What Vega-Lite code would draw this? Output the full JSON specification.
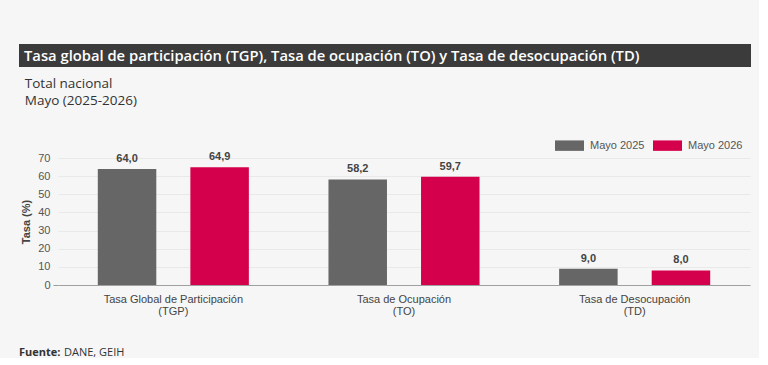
{
  "$schema": "https://vega.github.io/schema/vega-lite/v6.json",
  "background": "#f6f6f6",
  "padding": {"left": 19, "top": 44, "right": 8, "bottom": 0},
  "autosize": {"type": "pad"},
  "config": {
    "locale": {
      "number": {"decimal": ",", "thousands": ".", "grouping": [3], "currency": ["$", ""]}
    },
    "view": {"stroke": null},
    "font": "Liberation Sans"
  },
  "spacing": 9,
  "resolve": {"scale": {"color": "independent"}, "legend": {"color": "independent"}},
  "vconcat": [
    {
      "width": 732,
      "height": 23,
      "view": {"fill": "#3b3b3b", "stroke": null},
      "title": {
        "text": "Tasa global de participación (TGP), Tasa de ocupación (TO) y Tasa de desocupación (TD)",
        "orient": "top",
        "anchor": "start",
        "frame": "group",
        "offset": -20,
        "dx": 5,
        "color": "#ffffff",
        "font": "Open Sans",
        "fontSize": 14.75,
        "fontWeight": 600
      },
      "data": {"values": []},
      "mark": "rect"
    },
    {
      "spacing": 0,
      "resolve": {"scale": {"color": "independent"}, "legend": {"color": "independent"}},
      "hconcat": [
        {
          "width": 1,
          "height": 1,
          "data": {"values": []},
          "mark": "rect"
        },
        {
          "width": 692,
          "height": 127,
          "title": {
            "text": ["Total nacional", "Mayo (2025-2026)"],
            "anchor": "start",
            "frame": "bounds",
            "offset": 24,
            "dx": 4,
            "color": "#333333",
            "font": "Open Sans",
            "fontSize": 13.5,
            "fontWeight": 500,
            "lineHeight": 17
          },
          "data": {
            "values": [
              {"indicador": "Tasa Global de Participación (TGP)", "periodo": "Mayo 2025", "valor": 64.0},
              {"indicador": "Tasa Global de Participación (TGP)", "periodo": "Mayo 2026", "valor": 64.9},
              {"indicador": "Tasa de Ocupación (TO)", "periodo": "Mayo 2025", "valor": 58.2},
              {"indicador": "Tasa de Ocupación (TO)", "periodo": "Mayo 2026", "valor": 59.7},
              {"indicador": "Tasa de Desocupación (TD)", "periodo": "Mayo 2025", "valor": 9.0},
              {"indicador": "Tasa de Desocupación (TD)", "periodo": "Mayo 2026", "valor": 8.0}
            ]
          },
          "encoding": {
            "x": {
              "field": "indicador",
              "type": "nominal",
              "sort": null,
              "scale": {"paddingInner": 0, "paddingOuter": 0},
              "axis": {
                "title": null,
                "labelAngle": 0,
                "ticks": false,
                "domainColor": "#a0a0a0",
                "labelFont": "Liberation Sans",
                "labelFontSize": 11,
                "labelColor": "#444444",
                "labelPadding": 8,
                "labelLineHeight": 12,
                "labelLimit": 300,
                "labelExpr": "[slice(datum.label, 0, indexof(datum.label, ' (')), slice(datum.label, indexof(datum.label, ' (') + 1)]"
              }
            },
            "xOffset": {
              "field": "periodo",
              "type": "nominal",
              "sort": null,
              "scale": {"paddingInner": 0.368, "paddingOuter": 0.43}
            },
            "y": {
              "field": "valor",
              "type": "quantitative",
              "scale": {"domain": [0, 70]},
              "axis": {
                "title": "Tasa (%)",
                "titleFont": "Liberation Sans",
                "titleFontSize": 11,
                "titleFontWeight": "bold",
                "titleColor": "#444444",
                "titlePadding": 6,
                "values": [0, 10, 20, 30, 40, 50, 60, 70],
                "labelFont": "Liberation Sans",
                "labelFontSize": 11,
                "labelColor": "#555555",
                "labelPadding": 3,
                "domain": false,
                "tickSize": 5,
                "tickColor": {"condition": {"test": "datum.value === 0", "value": "#999999"}, "value": "rgba(0,0,0,0)"},
                "gridColor": "#e9e9e9"
              }
            }
          },
          "layer": [
            {
              "mark": {"type": "bar"},
              "encoding": {
                "color": {
                  "field": "periodo",
                  "type": "nominal",
                  "scale": {"domain": ["Mayo 2025", "Mayo 2026"], "range": ["#666666", "#d5004b"]},
                  "legend": {
                    "title": null,
                    "orient": "none",
                    "direction": "horizontal",
                    "legendX": 497,
                    "legendY": -27,
                    "symbolType": "M-1,-0.36H1V0.36H-1Z",
                    "symbolSize": 841,
                    "symbolStrokeWidth": 0,
                    "symbolOpacity": 1,
                    "labelFont": "Liberation Sans",
                    "labelFontSize": 11,
                    "labelColor": "#555555",
                    "labelOffset": 6,
                    "columnPadding": 8
                  }
                }
              }
            },
            {
              "mark": {
                "type": "text",
                "baseline": "alphabetic",
                "dy": -7,
                "font": "Liberation Sans",
                "fontSize": 11,
                "fontWeight": "bold",
                "color": "#444444"
              },
              "encoding": {
                "text": {"field": "valor", "type": "quantitative", "format": ".1f"}
              }
            }
          ]
        }
      ]
    },
    {
      "spacing": 3,
      "hconcat": [
        {
          "width": 1,
          "height": 1,
          "data": {"values": []},
          "mark": "rect",
          "title": {
            "text": "Fuente:",
            "orient": "bottom",
            "anchor": "start",
            "frame": "group",
            "offset": 21,
            "color": "#333333",
            "font": "Open Sans",
            "fontSize": 11,
            "fontWeight": "bold"
          }
        },
        {
          "width": 1,
          "height": 1,
          "data": {"values": []},
          "mark": "rect",
          "title": {
            "text": "DANE, GEIH",
            "orient": "bottom",
            "anchor": "start",
            "frame": "group",
            "offset": 21,
            "color": "#333333",
            "font": "Open Sans",
            "fontSize": 11,
            "fontWeight": "normal"
          }
        }
      ]
    }
  ]
}
